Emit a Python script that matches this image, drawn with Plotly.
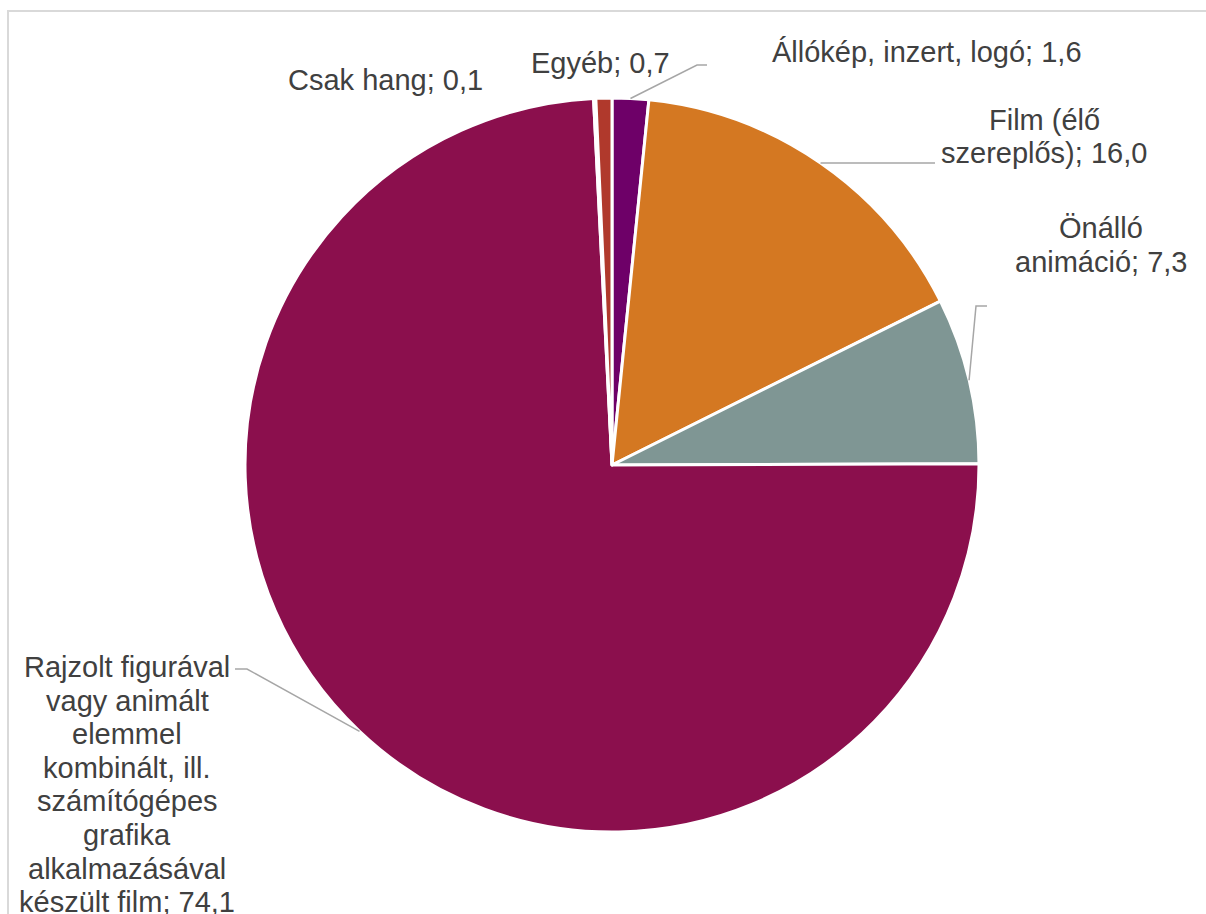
import math
import plotly.graph_objects as go

W, H = 1206, 914

# Slices, clockwise from 12 o'clock
labels = [
    "Állókép, inzert, logó",
    "Film (élő szereplős)",
    "Önálló animáció",
    "Rajzolt figurával vagy animált elemmel kombinált, ill. számítógépes grafika alkalmazásával készült film",
    "Csak hang",
    "Egyéb",
]
values = [1.6, 16.0, 7.3, 74.1, 0.1, 0.7]
colors = ["#6E0068", "#D47822", "#7F9694", "#8B0F4D", "#E3B25A", "#B0392C"]

# How each category name is wrapped on the chart
label_wrap = [
    ["Állókép, inzert, logó"],
    ["Film (élő", "szereplős)"],
    ["Önálló", "animáció"],
    ["Rajzolt figurával", "vagy animált", "elemmel", "kombinált, ill.",
     "számítógépes", "grafika", "alkalmazásával", "készült film"],
    ["Csak hang"],
    ["Egyéb"],
]

# Pie placement in pixels
CX, CY, R = 612, 465, 367

# Label placement in pixels: centre x, first line centre y, line step
label_pos = [
    (927, 52, 34),
    (1044, 120, 33),
    (1101, 228, 34),
    (127, 667, 33.6),
    (385, 80, 34),
    (600, 63, 34),
]
# Leader line points (elbow, end) in pixels; None = no leader line
leader = [
    [(697, 65), (707, 65)],
    [(935, 163)],
    [(976, 306), (987, 306)],
    [(247, 669), (235, 669)],
    None,
    None,
]

TEXT_COLOR = "#404040"
FONT = "Liberation Sans, Arial, sans-serif"


def px(x, y):
    return x / W, 1 - y / H


def fmt(v):
    return f"{v:.1f}".replace(".", ",")


fig = go.Figure()
fig.add_trace(go.Pie(
    labels=labels,
    values=values,
    sort=False,
    direction="clockwise",
    rotation=0,
    marker=dict(colors=colors, line=dict(color="white", width=3)),
    textinfo="none",
    hoverinfo="label+value",
    showlegend=False,
    domain=dict(x=[(CX - R) / W, (CX + R) / W],
                y=[1 - (CY + R) / H, 1 - (CY - R) / H]),
))

total = sum(values)
annotations = []
shapes = []
cum = 0.0
for i, v in enumerate(values):
    mid = (cum + v / 2) / total * 2 * math.pi
    cum += v
    lines = list(label_wrap[i])
    lines[-1] = f"{lines[-1]}; {fmt(v)}"
    lx, ly, step = label_pos[i]
    for k, line in enumerate(lines):
        x, y = px(lx, ly + k * step)
        annotations.append(dict(
            x=x, y=y, xref="paper", yref="paper", text=line,
            showarrow=False, xanchor="center", yanchor="middle",
            font=dict(family=FONT, size=29, color=TEXT_COLOR),
        ))
    if leader[i]:
        ax = CX + R * math.sin(mid)
        ay = CY - R * math.cos(mid)
        pts = [(ax, ay)] + leader[i]
        path = "M " + " L ".join(
            "{:.5f},{:.5f}".format(*px(x, y)) for x, y in pts)
        shapes.append(dict(type="path", path=path, xref="paper", yref="paper",
                           line=dict(color="#A6A6A6", width=1.5)))

# Chart area frame
shapes.append(dict(type="rect", xref="paper", yref="paper",
                   x0=8 / W, y0=1 - 11 / H, x1=1.01, y1=-0.01,
                   line=dict(color="#D9D9D9", width=2)))

fig.update_layout(
    width=W, height=H,
    margin=dict(l=0, r=0, t=0, b=0),
    paper_bgcolor="white",
    plot_bgcolor="white",
    annotations=annotations,
    shapes=shapes,
)

fig.write_html("out.html")
